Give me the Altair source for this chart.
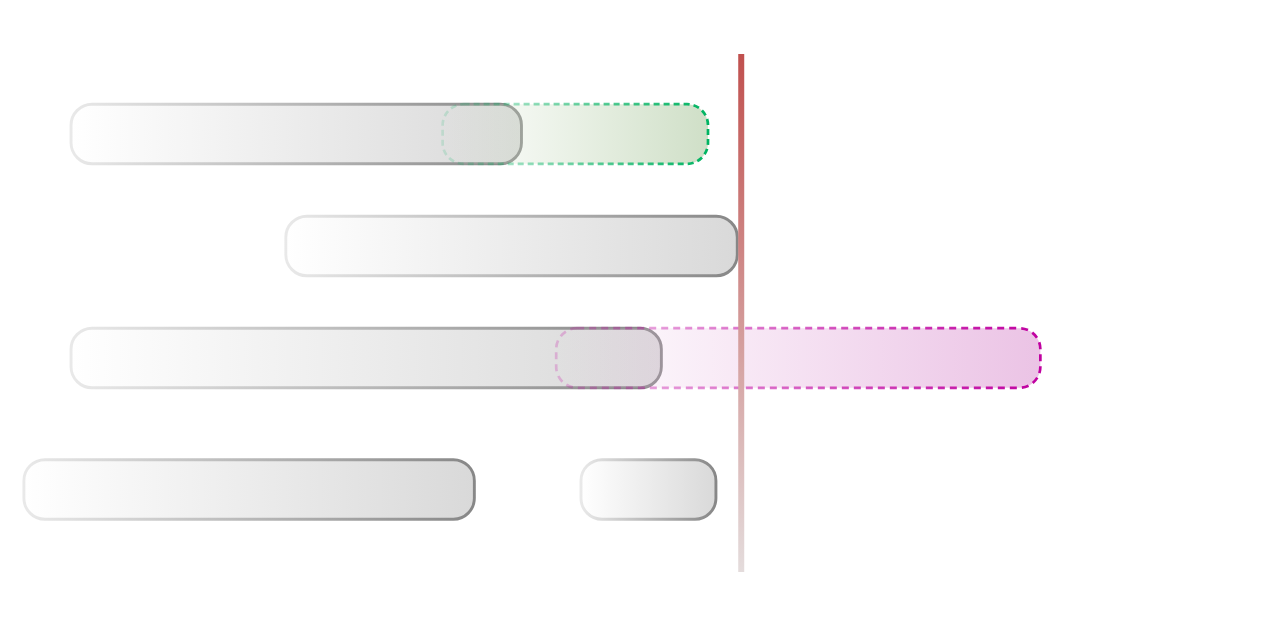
import altair as alt
import pandas as pd

# --- data (x in weeks-like units, y in lanes) ---
task_lane = [1, 2, 3, 4.174, 4.174]
task_start = [5.85, 27.5, 5.85, 1.1, 57.25]
task_end = [51.25, 73.0, 65.35, 46.5, 70.85]

ahead_lane = [1]
ahead_start = [43.3]
ahead_end = [70.05]

late_lane = [3]
late_start = [54.75]
late_end = [103.55]

today_x = [73.4]
today_top = [0.286]
today_bottom = [4.91]

HALF = 0.266

tasks = pd.DataFrame({"lane": task_lane, "start": task_start, "end": task_end})
tasks["y0"] = tasks["lane"] - HALF
tasks["y1"] = tasks["lane"] + HALF
ahead = pd.DataFrame({"lane": ahead_lane, "start": ahead_start, "end": ahead_end})
ahead["y0"] = ahead["lane"] - HALF
ahead["y1"] = ahead["lane"] + HALF
late = pd.DataFrame({"lane": late_lane, "start": late_start, "end": late_end})
late["y0"] = late["lane"] - HALF
late["y1"] = late["lane"] + HALF
today = pd.DataFrame({"x": today_x, "top": today_top, "bottom": today_bottom})

W, H = 1272, 608
xscale = alt.Scale(domain=[0, W / 10], nice=False, zero=False)
y0 = 1 - 126 / 112
yscale = alt.Scale(domain=[y0, y0 + H / 112], nice=False, zero=False, reverse=True)


def hgrad(c0, c1):
    return alt.Gradient(
        gradient="linear",
        stops=[alt.GradientStop(offset=0, color=c0), alt.GradientStop(offset=1, color=c1)],
        x1=0, x2=1, y1=0, y2=0,
    )


enc = dict(
    x=alt.X("start:Q", scale=xscale, axis=None),
    x2="end:Q",
    y=alt.Y("y0:Q", scale=yscale, axis=None),
    y2="y1:Q",
)

gray = alt.Chart(tasks).mark_rect(
    cornerRadius=21,
    fill=hgrad("#ffffff", "#d9d9d9"),
    stroke=hgrad("#e9e9e9", "#878787"),
    strokeWidth=2.9,
).encode(**enc)

green = alt.Chart(ahead).mark_rect(
    cornerRadius=21,
    fill=hgrad("rgba(214,228,206,0)", "#cfdfc7"),
    stroke=hgrad("rgba(0,176,96,0.15)", "#00b462"),
    strokeWidth=2.7,
    strokeDash=[6, 4],
).encode(**enc)

magenta = alt.Chart(late).mark_rect(
    cornerRadius=21,
    fill=hgrad("rgba(236,196,230,0)", "#ebc3e5"),
    stroke=hgrad("rgba(192,0,160,0.22)", "#c000a0"),
    strokeWidth=2.7,
    strokeDash=[7, 5],
).encode(**enc)

rule = alt.Chart(today).mark_bar(
    width=6,
    fill=alt.Gradient(
        gradient="linear",
        stops=[alt.GradientStop(offset=0, color="#c0504e"), alt.GradientStop(offset=1, color="#e4dcdc")],
        x1=0, x2=0, y1=0, y2=1,
    ),
).encode(
    x=alt.X("x:Q", scale=xscale, axis=None),
    y=alt.Y("top:Q", scale=yscale, axis=None),
    y2="bottom:Q",
)

chart = (
    alt.layer(gray, green, magenta, rule)
    .properties(width=W, height=H, padding=0, background="white")
    .configure_view(stroke=None)
)

chart.save("out.html", embed_options={"renderer": "svg", "actions": False})
